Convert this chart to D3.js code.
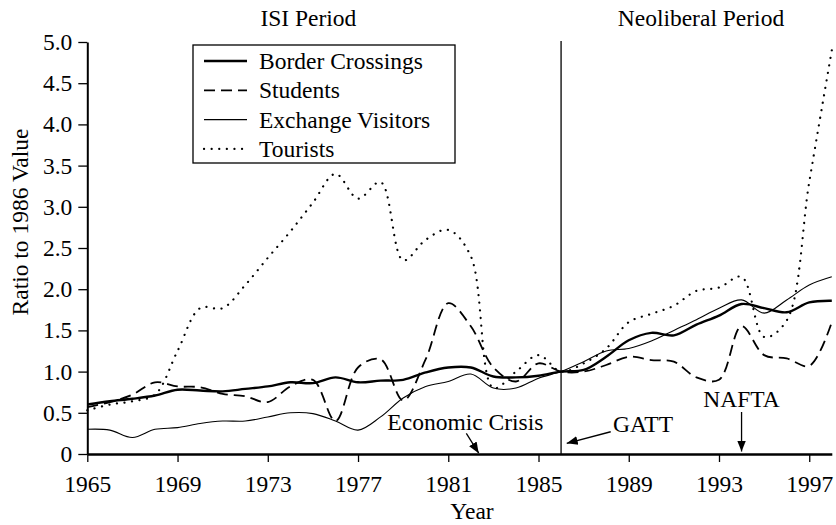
<!DOCTYPE html>
<html>
<head>
<meta charset="utf-8">
<script src="https://cdn.jsdelivr.net/npm/d3@7"></script>
<style>
  html, body { margin: 0; padding: 0; background: #fff; }
  svg { display: block; }
  svg text { font-family: 'Liberation Serif', 'Times New Roman', Tinos, 'DejaVu Serif', serif !important; fill: #000; }
</style>
</head>
<body>
<svg id="chart" width="836" height="525"></svg>
<script>
// ---- data ----
const years = d3.range(1965, 1999);
const borderCrossings = [0.60,0.64,0.67,0.71,0.78,0.77,0.76,0.79,0.82,0.87,0.86,0.93,0.87,0.89,0.90,0.99,1.05,1.05,0.94,0.93,0.95,1.00,1.02,1.18,1.38,1.47,1.44,1.57,1.68,1.82,1.77,1.72,1.84,1.86];
const students = [0.57,0.63,0.72,0.87,0.82,0.81,0.73,0.70,0.63,0.82,0.90,0.40,1.05,1.15,0.65,1.15,1.83,1.55,1.05,0.88,1.10,1.00,1.00,1.08,1.18,1.14,1.12,0.93,0.90,1.55,1.20,1.16,1.07,1.60];
const exchangeVisitors = [0.30,0.29,0.20,0.30,0.32,0.37,0.40,0.40,0.45,0.50,0.49,0.40,0.29,0.45,0.68,0.82,0.88,0.97,0.80,0.80,0.92,1.00,1.12,1.25,1.28,1.37,1.50,1.63,1.77,1.87,1.71,1.87,2.05,2.15];
const tourists = [0.53,0.60,0.64,0.72,1.25,1.77,1.77,2.05,2.38,2.70,3.05,3.40,3.10,3.30,2.35,2.60,2.72,2.40,0.80,1.00,1.20,1.00,1.10,1.28,1.60,1.70,1.80,1.98,2.02,2.15,1.42,1.62,3.30,4.90];

const seriesNames = ["Border Crossings","Students","Exchange Visitors","Tourists"];
const seriesValues = [borderCrossings, students, exchangeVisitors, tourists];

const xTickValues = [1965,1969,1973,1977,1981,1985,1989,1993,1997];
const yTickValues = [0,0.5,1,1.5,2,2.5,3,3.5,4,4.5,5];
const periodLabels = [{text:"ISI Period", year:1974.8}, {text:"Neoliberal Period", year:1992.2}];
const dividerYear = 1986;
const annotations = [
  {text:"Economic Crisis", tx:1978.3, tv:0.29, x1:1981.8, v1:0.25, x2:1982.35, v2:0.01},
  {text:"GATT", tx:1988.3, tv:0.27, x1:1988.2, v1:0.27, x2:1986.25, v2:0.13},
  {text:"NAFTA", tx:1994, tv:0.57, x1:1994, v1:0.51, x2:1994, v2:0.03, anchor:"middle"}
];

// ---- styles ----
const styles = [
  {width:2.4, dash:null, cap:"butt"},
  {width:1.8, dash:"11,6", cap:"butt"},
  {width:1.1, dash:null, cap:"butt"},
  {width:2.2, dash:"0.1,7.5", cap:"round"}
];

const FONT = 23.5;
const FAMILY = "'Liberation Serif', 'Times New Roman', Tinos, 'DejaVu Serif', serif";
const svg = d3.select("#chart");
const x = d3.scaleLinear().domain([1965, 1998]).range([87.3, 831.8]);
const y = d3.scaleLinear().domain([0, 5]).range([454, 42]);

svg.append("defs").append("marker")
  .attr("id","arrow").attr("viewBox","0 0 10 10").attr("refX",10).attr("refY",5)
  .attr("markerWidth",11).attr("markerHeight",11).attr("markerUnits","userSpaceOnUse")
  .attr("orient","auto")
  .append("path").attr("d","M0,1 L10,5 L0,9 Z").attr("fill","#000");

// axes
const xAxis = svg.append("g").attr("transform", `translate(0,${y(0)})`)
  .call(d3.axisBottom(x).tickValues(xTickValues).tickFormat(d3.format("d")).tickSize(8).tickSizeOuter(0));
xAxis.attr("font-family", FAMILY).attr("font-size", FONT);
xAxis.select(".domain").attr("stroke-width", 2.4);
xAxis.selectAll(".tick line").attr("stroke-width", 1.3);
xAxis.selectAll(".tick text").attr("dy", 0).attr("y", 38);

const yAxis = svg.append("g").attr("transform", `translate(${x(1965)},0)`)
  .call(d3.axisLeft(y).tickValues(yTickValues).tickFormat(d => d === 0 ? "0" : d3.format(".1f")(d)).tickSize(9).tickSizeOuter(0));
yAxis.attr("font-family", FAMILY).attr("font-size", FONT);
yAxis.select(".domain").attr("stroke-width", 2);
yAxis.selectAll(".tick line").attr("stroke-width", 1.3);
yAxis.selectAll(".tick text").attr("x", -15);

// divider
svg.append("line").attr("x1", x(dividerYear)).attr("x2", x(dividerYear))
  .attr("y1", y(5) - 1).attr("y2", y(0)).attr("stroke", "#000").attr("stroke-width", 1.3);

// lines
const line = d3.line().x((d, i) => x(years[i])).y(d => y(d)).curve(d3.curveCatmullRom.alpha(0.5));
const order = [2, 1, 3, 0];
order.forEach(k => {
  const st = styles[k];
  svg.append("path").datum(seriesValues[k]).attr("d", line)
    .attr("fill", "none").attr("stroke", "#000").attr("stroke-width", st.width)
    .attr("stroke-dasharray", st.dash).attr("stroke-linecap", st.cap).attr("stroke-linejoin", "round");
});

const T = (sel) => sel.attr("font-family", FAMILY).attr("font-size", FONT);

// period labels
periodLabels.forEach(p => {
  svg.append("text").attr("x", x(p.year)).attr("y", 26).attr("text-anchor", "middle").call(T).text(p.text);
});

// axis titles
svg.append("text").attr("x", 472).attr("y", 519).attr("text-anchor", "middle").call(T).text("Year");
svg.append("text").attr("transform", "translate(28,222) rotate(-90)").attr("text-anchor", "middle")
  .call(T).text("Ratio to 1986 Value");

// annotations
annotations.forEach(a => {
  svg.append("text").attr("x", x(a.tx)).attr("y", y(a.tv)).attr("text-anchor", a.anchor || "start")
    .call(T).text(a.text);
  svg.append("line").attr("x1", x(a.x1)).attr("y1", y(a.v1)).attr("x2", x(a.x2)).attr("y2", y(a.v2))
    .attr("stroke", "#000").attr("stroke-width", 1.3).attr("marker-end", "url(#arrow)");
});

// legend
const lg = svg.append("g").attr("transform", "translate(193,45)");
lg.append("rect").attr("width", 262).attr("height", 118).attr("fill", "#fff").attr("stroke", "#000").attr("stroke-width", 1.3);
seriesNames.forEach((name, i) => {
  const st = styles[i];
  const cy = 16 + i * 29.3;
  lg.append("line").attr("x1", 11).attr("x2", 54).attr("y1", cy).attr("y2", cy)
    .attr("stroke", "#000").attr("stroke-width", st.width).attr("stroke-dasharray", st.dash)
    .attr("stroke-linecap", st.cap);
  lg.append("text").attr("x", 66).attr("y", cy + 8).call(T).text(name);
});
</script>
</body>
</html>
